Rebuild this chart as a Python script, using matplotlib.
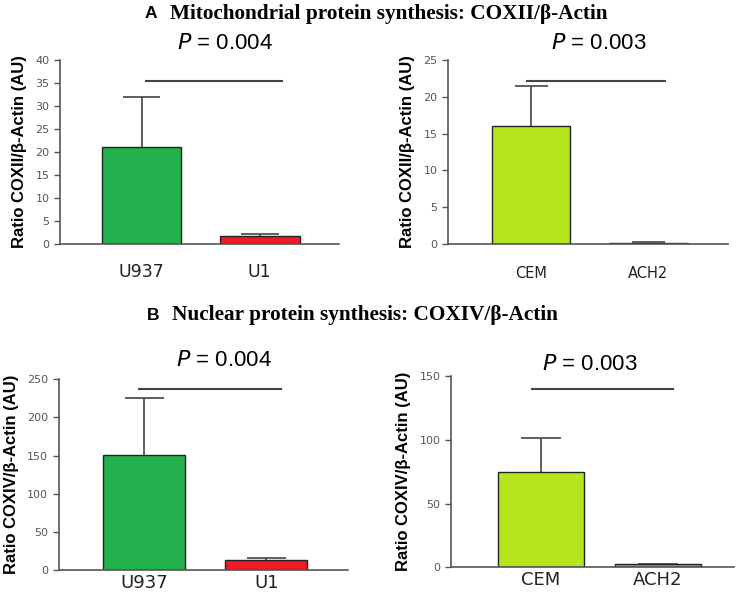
import matplotlib.pyplot as plt
import numpy as np

# values
cells_mono = ['U937', 'U1']
cells_lymph = ['CEM', 'ACH2']

coxii_mono = [21.1, 1.7]
coxii_mono_err = [10.9, 0.5]
coxii_lymph = [16.1, 0.15]
coxii_lymph_err = [5.4, 0.15]

coxiv_mono = [151, 13.5]
coxiv_mono_err = [74, 2.5]
coxiv_lymph = [74.5, 2.4]
coxiv_lymph_err = [27, 0.0]

p_values = ['0.004', '0.003', '0.004', '0.003']
sig_levels = [35.4, 22.1, 237, 139.5]

green = '#22b14c'
red = '#ed1c24'
lime = '#b5e61d'
orange = '#e3875a'

W, H = 742, 596
fig = plt.figure(figsize=(W / 100, H / 100), dpi=100)


def ax_at(x0, x1, y_top, y_bot):
    return fig.add_axes([x0 / W, 1 - y_bot / H, (x1 - x0) / W, (y_bot - y_top) / H])


def panel(ax, names, vals, errs, colors, ymax, step, ylabel, sig, sig_x, ptxt, p_xy,
          xlim, width, xfont, xpad, capw):
    x = np.arange(len(names))
    vals = np.array(vals, dtype=float)
    errs = np.array(errs, dtype=float)
    ax.bar(x, vals, width=width, color=colors, edgecolor='#222222', linewidth=1, zorder=2)
    # upper-only error bars
    ax.vlines(x, vals, vals + errs, color='#444444', lw=1.2, zorder=1)
    ax.hlines(vals + errs, x - capw, x + capw, color='#444444', lw=1.2, zorder=1)
    ax.plot(sig_x, [sig, sig], color='#444444', lw=1.5, solid_capstyle='butt')
    ax.text(p_xy[0], p_xy[1], r'$\it{P}$ = ' + ptxt, transform=ax.transAxes,
            ha='center', va='center', fontsize=16, family='Liberation Sans')
    ax.set_xlim(*xlim)
    ax.set_ylim(0, ymax)
    ax.set_yticks(np.arange(0, ymax + step / 2, step))
    ax.set_xticks(x)
    ax.set_xticklabels(names, fontsize=xfont, family='DejaVu Sans', color='#222222')
    ax.tick_params(axis='x', length=0, pad=xpad)
    ax.tick_params(axis='y', labelsize=8, labelcolor='#555555', color='#555555',
                   length=4, width=1, direction='out')
    for s in ['top', 'right']:
        ax.spines[s].set_visible(False)
    for s in ['left', 'bottom']:
        ax.spines[s].set_color('#555555')
        ax.spines[s].set_linewidth(1.2)
    ax.set_ylabel(ylabel, fontsize=12, fontweight='bold', family='Liberation Sans', labelpad=6)


ax1 = ax_at(60, 339, 60, 244)
panel(ax1, cells_mono, coxii_mono, coxii_mono_err, [green, red], 40, 5,
      'Ratio COXII/β-Actin (AU)', sig_levels[0], [0.03, 1.2], p_values[0], (0.59, 1.09),
      (-0.69, 1.67), 0.675, 12.5, 14, 0.16)

ax2 = ax_at(448, 728, 60, 244)
panel(ax2, cells_lymph, coxii_lymph, coxii_lymph_err, [lime, red], 25, 5,
      'Ratio COXII/β-Actin (AU)', sig_levels[1], [-0.04, 1.15], p_values[1], (0.54, 1.09),
      (-0.71, 1.68), 0.67, 10.5, 16, 0.14)

ax3 = ax_at(58.7, 348, 379.3, 570)
panel(ax3, cells_mono, coxiv_mono, coxiv_mono_err, [green, red], 250, 50,
      'Ratio COXIV/β-Actin (AU)', sig_levels[2], [-0.05, 1.13], p_values[2], (0.57, 1.10),
      (-0.70, 1.67), 0.672, 13, 3, 0.16)

ax4 = ax_at(451, 734, 376, 567.3)
panel(ax4, cells_lymph, coxiv_lymph, coxiv_lymph_err, [lime, orange], 150, 50,
      'Ratio COXIV/β-Actin (AU)', sig_levels[3], [-0.09, 1.14], p_values[3], (0.49, 1.06),
      (-0.77, 1.65), 0.74, 13, 3, 0.17)

# section headings
fig.text(145 / W, 1 - 14 / H, 'A', fontsize=12.5, fontweight='bold', family='Liberation Sans',
         va='center')
fig.text(170 / W, 1 - 14 / H, 'Mitochondrial protein synthesis: COXII/β-Actin', fontsize=15.3,
         fontweight='bold', family='Liberation Serif', va='center')
fig.text(147 / W, 1 - 315 / H, 'B', fontsize=12.5, fontweight='bold', family='Liberation Sans',
         va='center')
fig.text(172 / W, 1 - 315 / H, 'Nuclear protein synthesis: COXIV/β-Actin', fontsize=15.3,
         fontweight='bold', family='Liberation Serif', va='center')

fig.savefig('out.png', dpi=100)
